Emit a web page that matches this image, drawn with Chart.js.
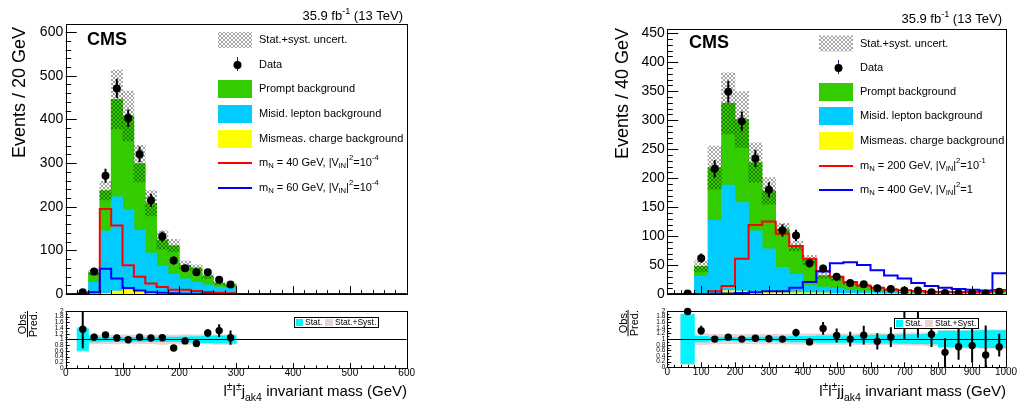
<!DOCTYPE html>
<html>
<head>
<meta charset="utf-8">
<title>CMS same-sign dilepton + jets invariant mass</title>
<script src="https://cdn.jsdelivr.net/npm/chart.js@4.4.1/dist/chart.umd.min.js"></script>
<style>
  html, body { margin: 0; padding: 0; background: #fff; }
  #page { position: relative; width: 1018px; height: 410px; overflow: hidden; background: #fff; }
  .box { position: absolute; }
  canvas { display: block; }
</style>
</head>
<body>
<div id="page">
  <div class="box" style="left:0;top:0"><canvas id="mainL" width="420" height="305"></canvas></div>
  <div class="box" style="left:0;top:305px"><canvas id="ratioL" width="420" height="105"></canvas></div>
  <div class="box" style="left:560px;top:0"><canvas id="mainR" width="458" height="305"></canvas></div>
  <div class="box" style="left:560px;top:305px"><canvas id="ratioR" width="458" height="105"></canvas></div>
</div>
<script>
// ---- left panel: l±l±j_ak4, 20 GeV bins from 0 to 600 ----
const binWL = 20, xMaxL = 600;
const yellowL = [0, 0, 1, 2, 7, 10, 6, 3, 2, 1, 1, 1, 0.5, 0.5, 0.5];
const misidL  = [0, 1.5, 26, 143, 216, 183, 140, 91, 63, 45, 34, 26, 20.5, 15.5, 12.5];
const promptL = [0, 1.5, 22, 92, 223, 215, 153, 114, 59, 65, 31, 33, 20, 9, 8];
const uncL    = [0, 0.2, 0.12, 0.09, 0.15, 0.14, 0.14, 0.14, 0.17, 0.13, 0.15, 0.12, 0.12, 0.12, 0.12];
const dataL   = [null, 4, 52, 271, 471, 403, 320, 215, 132, 77, 59, 50, 50, 33, 22];
const dataErrL = [0, 2, 7, 16, 22, 20, 18, 15, 11.5, 9, 8, 7, 7, 6, 5];
const sig40L  = [0, 0, 4, 195, 157, 66, 40, 24, 16, 10, 10, 7, 5, 3, 2];
const sig60L  = [0, 0, 4, 58, 36, 14, 8, 4, 3, 2, 1, 1, 1, 0.5, 0.5];
const ratioL    = [null, 1.36, 1.08, 1.16, 1.05, 0.99, 1.08, 1.05, 1.06, 0.70, 0.95, 0.86, 1.23, 1.31, 1.06];
const ratioErrL = [0, 0.67, 0.12, 0.06, 0.05, 0.05, 0.06, 0.07, 0.09, 0.08, 0.1, 0.11, 0.14, 0.22, 0.25];
const statL = [0, 0.38, 0.09, 0.07, 0.07, 0.07, 0.07, 0.07, 0.08, 0.08, 0.09, 0.1, 0.11, 0.13, 0.13];
const systL = [0, 0.42, 0.16, 0.15, 0.16, 0.15, 0.15, 0.15, 0.17, 0.15, 0.17, 0.16, 0.16, 0.17, 0.17];

// ---- right panel: l±l±jj_ak4, 40 GeV bins from 0 to 1000 ----
const binWR = 40, xMaxR = 1000;
const yellowR = [0, 0, 0.3, 1.5, 6, 5, 4, 3, 2.5, 2.5, 2, 2, 1.5, 1.2, 1, 0.8, 0.6, 0.5, 0.5, 0.4, 0.4, 0.3, 0.3, 0.3, 0.4];
const misidR  = [0, 0.3, 30.7, 125.5, 182, 153, 105, 75, 43.5, 31.5, 13, 10, 8.5, 5.8, 4, 3.2, 2.4, 0.5, 0.5, 0.6, 0.8, 0.3, 0.3, 0.4, 1.1];
const promptR = [0, 0.2, 17, 91, 141, 143, 118, 100, 66, 49, 44, 20, 17, 12, 10, 7, 5.5, 1.5, 1.5, 1.6, 2.6, 1.4, 1.4, 1.6, 4];
const uncR    = [0, 0.3, 0.2, 0.17, 0.16, 0.16, 0.15, 0.13, 0.09, 0.1, 0.13, 0.15, 0.14, 0.14, 0.15, 0.15, 0.15, 0.16, 0.16, 0.17, 0.2, 0.22, 0.22, 0.22, 0.22];
const dataR   = [null, 1, 62, 216, 349, 298, 234, 180, 110, 101, 53, 44, 30, 19, 17, 10, 9, 6, 6, 3, 2, 1.5, 1.5, 1, 4];
const dataErrR = [0, 1, 8, 15, 19, 17, 15, 13, 10.5, 10, 7, 6.6, 5.5, 4.4, 4, 3, 3, 2.4, 2.4, 1.7, 1.4, 1.2, 1.2, 1, 2];
const sig200R = [0, 0, 0, 5, 14, 61, 119, 125, 104, 83, 61, 40, 30, 21, 15, 11, 8, 6.5, 5.5, 4, 4, 3.5, 3.5, 3.5, 7];
const sig400R = [0, 0, 0, 0.5, 1, 2, 3, 5, 5, 11, 21, 39, 53, 55, 50, 41, 32, 27, 19, 14, 11, 9, 7.5, 6, 36];
const ratioR   = [null, 1.98, 1.3, 1.0, 1.07, 1.0, 1.03, 1.01, 1.0, 1.23, 0.9, 1.38, 1.13, 1.0, 1.14, 0.92, 1.07, 2.4, 2.4, 1.17, 0.53, 0.73, 0.77, 0.44, 0.72];
const ratioDnR = [0, 0.05, 0.15, 0.07, 0.06, 0.06, 0.07, 0.08, 0.1, 0.14, 0.12, 0.23, 0.25, 0.26, 0.33, 0.29, 0.35, 1.4, 1.35, 0.45, 0.53, 0.46, 0.6, 0.44, 0.34];
const ratioUpR = [0, 0.05, 0.17, 0.07, 0.06, 0.06, 0.07, 0.08, 0.1, 0.14, 0.12, 0.23, 0.25, 0.26, 0.33, 0.29, 0.35, 1, 1, 0.5, 0.5, 0.75, 0.7, 1.04, 0.47];
const statR = [0, 0.87, 0.1, 0.07, 0.06, 0.06, 0.07, 0.07, 0.08, 0.1, 0.1, 0.12, 0.12, 0.12, 0.13, 0.14, 0.14, 0.15, 0.16, 0.17, 0.28, 0.28, 0.29, 0.3, 0.3];
const systR = [0, 0.9, 0.2, 0.17, 0.16, 0.16, 0.17, 0.17, 0.17, 0.18, 0.18, 0.19, 0.19, 0.19, 0.2, 0.2, 0.2, 0.21, 0.22, 0.23, 0.31, 0.31, 0.32, 0.33, 0.33];

const FONT = '"Liberation Sans", Arial, Helvetica, sans-serif';
const COL = {
  prompt: '#33cc00', misid: '#00ccff', mismeas: '#ffff00',
  sigA: '#ff0000', sigB: '#0000ff', stat: '#00f5ff', syst: '#e8d4d2'
};

function setFont(ctx, size, weight) {
  ctx.font = (weight || 'normal') + ' ' + size + 'px ' + FONT;
}

// text with sub/superscripts: parts are strings or [text, 'sub'|'sup']
function partOf(p) { return Array.isArray(p) ? p : [p, '']; }
function richWidth(ctx, parts, size) {
  let w = 0;
  parts.forEach(p => {
    const [t, m] = partOf(p);
    setFont(ctx, m ? size * 0.7 : size);
    w += ctx.measureText(t).width;
  });
  return w;
}
function drawRich(ctx, parts, x, y, size, align) {
  let cx = align === 'right' ? x - richWidth(ctx, parts, size) : x;
  ctx.textAlign = 'left';
  parts.forEach(p => {
    const [t, m] = partOf(p);
    setFont(ctx, m ? size * 0.7 : size);
    const dy = m === 'sub' ? size * 0.3 : (m === 'sup' ? -size * 0.42 : 0);
    ctx.fillText(t, cx, y + dy);
    cx += ctx.measureText(t).width;
  });
}

function makeHatch(ctx) {
  const c = document.createElement('canvas');
  c.width = 4; c.height = 4;
  const g = c.getContext('2d');
  g.fillStyle = 'rgba(0,0,0,0.36)';
  [[0, 0], [1, 1], [2, 2], [3, 3], [3, 0], [2, 1], [1, 2], [0, 3]].forEach(p => g.fillRect(p[0], p[1], 1, 1));
  return ctx.createPattern(c, 'repeat');
}

function vText(ctx, text, xb, yTop, size) {
  ctx.save();
  ctx.translate(xb, yTop);
  ctx.rotate(-Math.PI / 2);
  setFont(ctx, size);
  ctx.textAlign = 'right';
  ctx.textBaseline = 'alphabetic';
  ctx.fillStyle = '#000';
  ctx.fillText(text, 0, 0);
  ctx.restore();
}

// inward ROOT-style ticks and the frame
function drawFrame(chart, t) {
  const { ctx, chartArea: a, scales: { x, y } } = chart;
  ctx.save();
  ctx.strokeStyle = '#000';
  ctx.lineWidth = 1;
  ctx.beginPath();
  const nx = Math.round((x.max - x.min) / t.xMinor);
  for (let k = 0; k <= nx; k++) {
    const v = x.min + k * t.xMinor;
    const major = Math.abs(v / t.xMajor - Math.round(v / t.xMajor)) < 1e-6;
    const px = Math.round(x.getPixelForValue(v)) + 0.5;
    ctx.moveTo(px, a.bottom);
    ctx.lineTo(px, a.bottom - (major ? t.xMaj : t.xMin));
  }
  const ny = Math.floor((y.max - y.min) / t.yMinor + 1e-6);
  for (let k = 0; k <= ny; k++) {
    const v = y.min + k * t.yMinor;
    const major = Math.abs(v / t.yMajor - Math.round(v / t.yMajor)) < 1e-6;
    const py = Math.round(y.getPixelForValue(v)) + 0.5;
    ctx.moveTo(a.left, py);
    ctx.lineTo(a.left + (major ? t.yMaj : t.yMin), py);
  }
  ctx.stroke();
  const l = Math.round(a.left), tp = Math.round(a.top);
  ctx.strokeRect(l + 0.5, tp + 0.5, Math.round(a.right) - l, Math.round(a.bottom) - tp);
  ctx.restore();
}

function drawErrorBars(chart) {
  const { ctx, chartArea: a, scales: { x, y } } = chart;
  ctx.save();
  ctx.beginPath();
  ctx.rect(a.left, a.top, a.right - a.left, a.bottom - a.top);
  ctx.clip();
  ctx.strokeStyle = '#000';
  ctx.lineWidth = 2;
  chart.data.datasets.forEach(ds => {
    if (!ds.errorBars) return;
    ds.data.forEach(p => {
      const px = x.getPixelForValue(p.x);
      ctx.beginPath();
      ctx.moveTo(px, y.getPixelForValue(p.y + p.eu));
      ctx.lineTo(px, y.getPixelForValue(Math.max(p.y - p.ed, y.min)));
      ctx.stroke();
    });
  });
  ctx.restore();
}

function mainLegend(ctx, lg, hatch, sigText) {
  const x0 = lg.x, w = 34, tx = lg.x + 41, r = lg.rows;
  ctx.save();
  ctx.fillStyle = hatch;
  ctx.fillRect(x0, r[0] - 8, w, 16);
  ctx.strokeStyle = '#1a1a8c';
  ctx.lineWidth = 1;
  ctx.beginPath();
  ctx.moveTo(x0 + 19.5, r[1] - 8);
  ctx.lineTo(x0 + 19.5, r[1] + 6);
  ctx.stroke();
  ctx.fillStyle = '#000';
  ctx.beginPath();
  ctx.arc(x0 + 19.5, r[1], 4, 0, Math.PI * 2);
  ctx.fill();
  [[COL.prompt, r[2]], [COL.misid, r[3]], [COL.mismeas, r[4]]].forEach(([c, yc]) => {
    ctx.fillStyle = c;
    ctx.fillRect(x0, yc - 9, w, 18);
  });
  [[COL.sigA, r[5]], [COL.sigB, r[6]]].forEach(([c, yc]) => {
    ctx.strokeStyle = c;
    ctx.lineWidth = 2;
    ctx.beginPath();
    ctx.moveTo(x0, yc);
    ctx.lineTo(x0 + w, yc);
    ctx.stroke();
  });
  ctx.fillStyle = '#000';
  ctx.textBaseline = 'middle';
  const labels = [['Stat.+syst. uncert.'], ['Data'], ['Prompt background'],
    ['Misid. lepton background'], ['Mismeas. charge background'], sigText[0], sigText[1]];
  labels.forEach((p, i) => drawRich(ctx, p, tx, r[i], 11));
  ctx.restore();
}

function ratioLegend(ctx, x, y) {
  ctx.save();
  ctx.fillStyle = '#fff';
  ctx.fillRect(x, y, 84, 10);
  ctx.strokeStyle = '#000';
  ctx.lineWidth = 1;
  ctx.strokeRect(x + 0.5, y + 0.5, 84, 10);
  ctx.fillStyle = COL.stat;
  ctx.fillRect(x + 2, y + 2, 7, 7);
  ctx.fillStyle = COL.syst;
  ctx.fillRect(x + 31, y + 2, 8, 7);
  setFont(ctx, 8.5);
  ctx.fillStyle = '#000';
  ctx.textAlign = 'left';
  ctx.textBaseline = 'middle';
  ctx.fillText('Stat.', x + 11, y + 5.8);
  ctx.fillText('Stat.+Syst.', x + 41, y + 5.8);
  ctx.restore();
}

const val = (arr, i) => (arr[i] == null ? 0 : arr[i]);

function buildMain(id, s) {
  const ctx = document.getElementById(id).getContext('2d');
  const hatch = makeHatch(ctx);
  const nb = Math.round(s.xMax / s.binW);
  const yel = [], cya = [], grn = [], unc = [];
  for (let i = 0; i < nb; i++) {
    const x = (i + 0.5) * s.binW;
    const a = val(s.yellow, i), b = a + val(s.misid, i), c = b + val(s.prompt, i);
    if (a > 0) yel.push({ x, y: [0, a] });
    if (b > a) cya.push({ x, y: [a, b] });
    if (c > b) grn.push({ x, y: [b, c] });
    if (c > 0 && val(s.unc, i) > 0) unc.push({ x, y: [c * (1 - s.unc[i]), c * (1 + s.unc[i])] });
  }
  // histogram outline: one point per bin edge, the bin value held until the next edge
  const step = arr => {
    const pts = [];
    for (let i = 0; i <= nb; i++) pts.push({ x: i * s.binW, y: val(arr, Math.min(i, nb - 1)) });
    return pts;
  };
  const pts = [];
  s.data.forEach((v, i) => {
    if (v != null) pts.push({ x: (i + 0.5) * s.binW, y: v, eu: s.dataErr[i], ed: s.dataErr[i] });
  });
  const bar = (data, color, order) => ({
    type: 'bar', data, backgroundColor: color, borderWidth: 0, grouped: false,
    barPercentage: 1, categoryPercentage: 1, order
  });
  const line = (arr, color, order) => ({
    type: 'line', data: step(arr), borderColor: color, borderWidth: 2, stepped: 'before',
    pointRadius: 0, fill: false, order
  });
  return new Chart(ctx, {
    type: 'line',
    data: {
      datasets: [
        { type: 'line', data: pts, showLine: false, pointRadius: 4, pointBackgroundColor: '#000',
          pointBorderWidth: 0, errorBars: true, order: 0 },
        line(s.sigB, COL.sigB, 1),
        line(s.sigA, COL.sigA, 2),
        bar(unc, hatch, 3),
        bar(yel, COL.mismeas, 4),
        bar(cya, COL.misid, 5),
        bar(grn, COL.prompt, 6)
      ]
    },
    options: {
      responsive: false, animation: false, events: [],
      layout: { padding: s.pad },
      plugins: { legend: { display: false }, tooltip: { enabled: false } },
      scales: {
        x: { type: 'linear', display: false, min: 0, max: s.xMax, offset: false },
        y: {
          type: 'linear', min: 0, max: s.yMax,
          grid: { display: false, drawTicks: false }, border: { display: false },
          ticks: { stepSize: s.yStep, includeBounds: false, padding: 2.5, color: '#000', autoSkip: false,
                   font: { family: FONT, size: 14 } },
          afterFit: sc => { sc.width = s.axisW; }
        }
      }
    },
    plugins: [{
      id: 'decor',
      afterDatasetsDraw: chart => drawErrorBars(chart),
      afterDraw: chart => {
        drawFrame(chart, s.ticks);
        const c = chart.ctx;
        c.save();
        c.fillStyle = '#000';
        c.textBaseline = 'alphabetic';
        drawRich(c, ['35.9 fb', ['-1', 'sup'], ' (13 TeV)'], s.lumi[0], s.lumi[1], 13, 'right');
        setFont(c, 18, 'bold');
        c.textAlign = 'left';
        c.fillText('CMS', s.cms[0], s.cms[1]);
        c.restore();
        vText(c, s.yTitle, s.yTitlePos[0], s.yTitlePos[1], 18);
        mainLegend(c, s.legend, hatch, s.sigText);
      }
    }]
  });
}

function buildRatio(id, s) {
  const ctx = document.getElementById(id).getContext('2d');
  const nb = Math.round(s.xMax / s.binW);
  const stat = [], syst = [], pts = [];
  for (let i = 0; i < nb; i++) {
    const x = (i + 0.5) * s.binW;
    if (val(s.stat, i) > 0) stat.push({ x, y: [1 - s.stat[i], 1 + s.stat[i]] });
    if (val(s.syst, i) > 0) syst.push({ x, y: [1 - s.syst[i], 1 + s.syst[i]] });
    if (s.ratio[i] != null) pts.push({ x, y: s.ratio[i], eu: s.errUp[i], ed: s.errDn[i] });
  }
  const bar = (data, color, order) => ({
    type: 'bar', data, backgroundColor: color, borderWidth: 0, grouped: false,
    barPercentage: 1, categoryPercentage: 1, order
  });
  return new Chart(ctx, {
    type: 'line',
    data: {
      datasets: [
        { type: 'line', data: pts, showLine: false, pointRadius: 3.7, pointBackgroundColor: '#000',
          pointBorderWidth: 0, errorBars: true, order: 0, clip: { left: 0, top: 6, right: 0, bottom: 0 } },
        bar(stat, COL.stat, 1),
        bar(syst, COL.syst, 2)
      ]
    },
    options: {
      responsive: false, animation: false, events: [],
      layout: { padding: s.pad },
      plugins: { legend: { display: false }, tooltip: { enabled: false } },
      scales: {
        x: {
          type: 'linear', min: 0, max: s.xMax, offset: false,
          grid: { display: false, drawTicks: false }, border: { display: false },
          ticks: { stepSize: 100, includeBounds: false, padding: -1, maxRotation: 0, autoSkip: false,
                   color: '#000', font: { family: FONT, size: 10 }, callback: v => String(v) },
          afterFit: sc => { sc.height = 18; }
        },
        y: {
          type: 'linear', min: 0, max: 2,
          grid: { display: false, drawTicks: false }, border: { display: false },
          ticks: { stepSize: 0.2, padding: 2, color: '#000', autoSkip: false,
                   font: { family: FONT, size: 6.5 },
                   callback: v => String(+v.toFixed(1)) },
          afterFit: sc => { sc.width = s.axisW; }
        }
      }
    },
    plugins: [{
      id: 'decor',
      afterDatasetsDraw: chart => {
        const { ctx: c, chartArea: a, scales: { y } } = chart;
        const py = Math.round(y.getPixelForValue(1)) + 0.5;
        c.save();
        c.strokeStyle = '#000';
        c.lineWidth = 1;
        c.beginPath();
        c.moveTo(a.left, py);
        c.lineTo(a.right, py);
        c.stroke();
        c.restore();
        drawErrorBars(chart);
      },
      afterDraw: chart => {
        drawFrame(chart, s.ticks);
        const c = chart.ctx;
        ratioLegend(c, s.legend[0], s.legend[1]);
        // Obs./Pred. fraction
        vText(c, 'Obs.', s.frac[0], s.frac[3], 11);
        vText(c, 'Pred.', s.frac[1], s.frac[3], 11);
        setFont(c, 11);
        const w = c.measureText('Pred.').width;
        c.save();
        c.strokeStyle = '#000';
        c.lineWidth = 1;
        c.beginPath();
        c.moveTo(s.frac[2], s.frac[3]);
        c.lineTo(s.frac[2], s.frac[3] + w);
        c.stroke();
        c.fillStyle = '#000';
        c.textBaseline = 'alphabetic';
        drawRich(c, s.xTitle, s.xTitlePos[0], s.xTitlePos[1], 15, 'right');
        c.restore();
      }
    }]
  });
}

const sigTextL = [
  ['m', ['N', 'sub'], ' = 40 GeV, |V', ['lN', 'sub'], '|', ['2', 'sup'], '=10', ['-4', 'sup']],
  ['m', ['N', 'sub'], ' = 60 GeV, |V', ['lN', 'sub'], '|', ['2', 'sup'], '=10', ['-4', 'sup']]
];
const sigTextR = [
  ['m', ['N', 'sub'], ' = 200 GeV, |V', ['lN', 'sub'], '|', ['2', 'sup'], '=10', ['-1', 'sup']],
  ['m', ['N', 'sub'], ' = 400 GeV, |V', ['lN', 'sub'], '|', ['2', 'sup'], '=1']
];

buildMain('mainL', {
  binW: binWL, xMax: xMaxL, yMax: 618.5, yStep: 100, axisW: 65.7,
  pad: { top: 24, right: 13.3, bottom: 4, left: 0 },
  yellow: yellowL, misid: misidL, prompt: promptL, unc: uncL,
  data: dataL, dataErr: dataErrL, sigA: sig40L, sigB: sig60L,
  ticks: { xMajor: 100, xMinor: 20, xMaj: 8, xMin: 4, yMajor: 100, yMinor: 20, yMaj: 11, yMin: 5.5 },
  lumi: [403, 19.5], cms: [87, 45], yTitle: 'Events / 20 GeV', yTitlePos: [25, 27],
  legend: { x: 218, rows: [40, 65, 89, 114, 139, 163, 188] }, sigText: sigTextL
});

buildMain('mainR', {
  binW: binWR, xMax: xMaxR, yMax: 458, yStep: 50, axisW: 107.3,
  pad: { top: 28.5, right: 12, bottom: 3.3, left: 0 },
  yellow: yellowR, misid: misidR, prompt: promptR, unc: uncR,
  data: dataR, dataErr: dataErrR, sigA: sig200R, sigB: sig400R,
  ticks: { xMajor: 100, xMinor: 20, xMaj: 8, xMin: 4, yMajor: 50, yMinor: 10, yMaj: 11, yMin: 5.5 },
  lumi: [442, 22.5], cms: [129, 48], yTitle: 'Events / 40 GeV', yTitlePos: [68, 28],
  legend: { x: 259, rows: [43.5, 68, 92, 116, 141, 166, 190] }, sigText: sigTextR
});

buildRatio('ratioL', {
  binW: binWL, xMax: xMaxL, axisW: 65.7,
  pad: { top: 5.5, right: 13.3, bottom: 24, left: 0 },
  ratio: ratioL, errUp: ratioErrL, errDn: ratioErrL, stat: statL, syst: systL,
  ticks: { xMajor: 100, xMinor: 20, xMaj: 5, xMin: 2.5, yMajor: 0.2, yMinor: 0.1, yMaj: 4, yMin: 2 },
  legend: [294, 12], frac: [25.5, 36.5, 27.5, 6],
  xTitle: ['l', ['\u00b1', 'sup'], 'l', ['\u00b1', 'sup'], 'j', ['ak4', 'sub'], ' invariant mass (GeV)'],
  xTitlePos: [407, 91]
});

buildRatio('ratioR', {
  binW: binWR, xMax: xMaxR, axisW: 107.3,
  pad: { top: 5.7, right: 12, bottom: 24.7, left: 0 },
  ratio: ratioR, errUp: ratioUpR, errDn: ratioDnR, stat: statR, syst: systR,
  ticks: { xMajor: 100, xMinor: 20, xMaj: 5, xMin: 2.5, yMajor: 0.2, yMinor: 0.1, yMaj: 4, yMin: 2 },
  legend: [334, 13], frac: [66.5, 77.5, 68, 5],
  xTitle: ['l', ['\u00b1', 'sup'], 'l', ['\u00b1', 'sup'], 'jj', ['ak4', 'sub'], ' invariant mass (GeV)'],
  xTitlePos: [446, 91]
});
</script>
</body>
</html>
